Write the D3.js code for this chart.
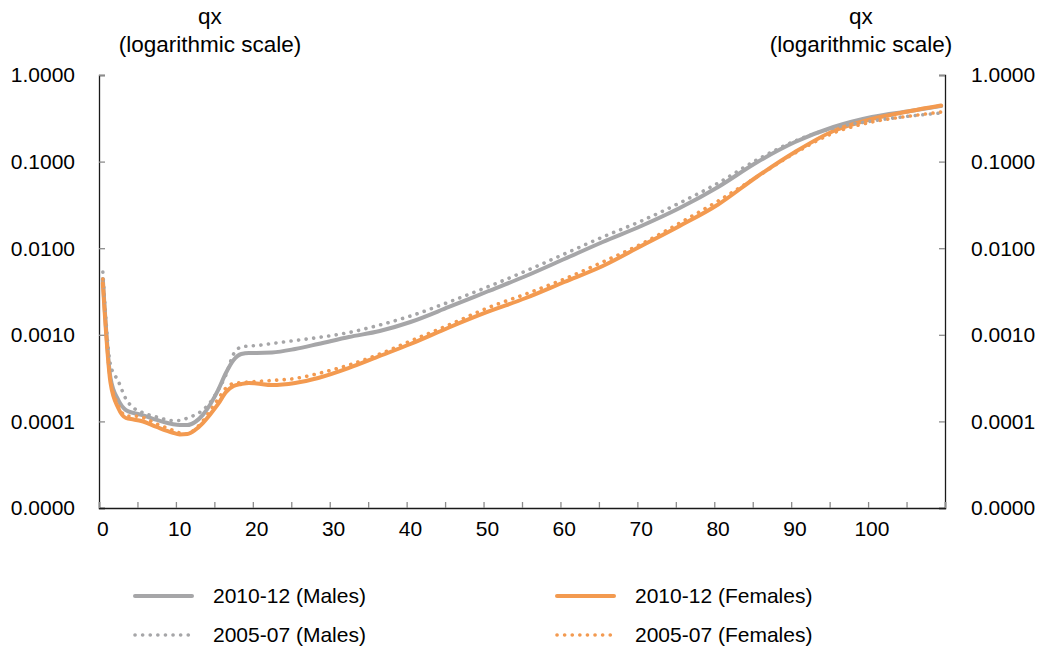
<!DOCTYPE html>
<html>
<head>
<meta charset="utf-8">
<script src="https://cdn.jsdelivr.net/npm/d3@7"></script>
<style>
  body { margin: 0; background: #fff; }
  text { font-family: "Liberation Sans", Arial, sans-serif; fill: #000; }
</style>
</head>
<body>
<div class="chart-container"></div>
<script>
const ages = [0, 1, 2, 3, 4, 5, 7, 9, 10, 11, 12, 13, 14, 15, 16, 17, 18, 19, 20, 22, 25, 28, 32, 36,
    40, 45, 50, 55, 60, 65, 70, 75, 80, 85, 90, 95, 100, 105, 109];

const males1012 = [0.00441, 0.000317, 0.000177, 0.000135, 0.000125, 0.000119, 0.000104, 0.0000933, 0.0000909,
    0.0000909, 0.0000985, 0.000119, 0.000159, 0.000231, 0.000362, 0.000512, 0.000600, 0.000617, 0.000617,
    0.000625, 0.000686, 0.000783, 0.000943, 0.001106, 0.001406, 0.002096, 0.003162, 0.004775, 0.00750,
    0.0118, 0.01805, 0.0291, 0.0509, 0.0976, 0.1684, 0.2509, 0.3273, 0.3841, 0.4386];

const females1012 = [0.003964, 0.000278, 0.000143, 0.0001095, 0.0001052, 0.000101, 0.0000862, 0.0000745, 0.0000706,
    0.0000715, 0.0000796, 0.0000958, 0.0001218, 0.000159, 0.000218, 0.000256, 0.000270, 0.000278, 0.000274,
    0.000263, 0.000278, 0.000317, 0.000414, 0.000569, 0.000783, 0.001215, 0.001834, 0.00266, 0.00407,
    0.00623, 0.0106, 0.01805, 0.03196, 0.0664, 0.1291, 0.2256, 0.3103, 0.3841, 0.4444];

const males0507 = [0.00531, 0.000448, 0.000293, 0.0001815, 0.000143, 0.0001284, 0.0001124, 0.0001024, 0.0001024,
    0.0001095, 0.000119, 0.000135, 0.0001675, 0.000231, 0.000344, 0.000600, 0.000723, 0.000743, 0.000752,
    0.000794, 0.000859, 0.000931, 0.001063, 0.001298, 0.001649, 0.002392, 0.003565, 0.00545, 0.00857,
    0.01347, 0.0206, 0.0333, 0.0566, 0.1043, 0.1729, 0.2443, 0.2942, 0.3362, 0.3640];

const females0507 = [0.00441, 0.000301, 0.0001547, 0.0001154, 0.0001154, 0.0001124, 0.0000933, 0.0000796, 0.0000735,
    0.0000715, 0.0000817, 0.000101, 0.000135, 0.0001815, 0.000243, 0.000274, 0.000281, 0.000285, 0.000289,
    0.000297, 0.000313, 0.000357, 0.000448, 0.000600, 0.000848, 0.001298, 0.00204, 0.00296, 0.00441,
    0.00693, 0.01118, 0.01954, 0.0351, 0.0664, 0.1257, 0.2140, 0.2866, 0.3362, 0.3738];

const yTicks = [0.00001, 0.0001, 0.001, 0.01, 0.1, 1];
const xLabels = [0, 10, 20, 30, 40, 50, 60, 70, 80, 90, 100];
const nAges = 110; // categories 0..109

const grey = '#a6a6a8';
const orange = '#f39a50';

const series = [
    { name: '2010-12 (Males)', values: males1012, color: grey, dotted: false },
    { name: '2010-12 (Females)', values: females1012, color: orange, dotted: false },
    { name: '2005-07 (Males)', values: males0507, color: grey, dotted: true },
    { name: '2005-07 (Females)', values: females0507, color: orange, dotted: true }
];

const outerWidth = 1040;
const outerHeight = 648;
const margin = { top: 75, right: 95, bottom: 140, left: 99 };
const width = outerWidth - margin.left - margin.right;
const height = outerHeight - margin.top - margin.bottom;

const svg = d3.select('.chart-container').append('svg')
    .attr('width', outerWidth)
    .attr('height', outerHeight);

const g = svg.append('g')
    .attr('transform', `translate(${margin.left}, ${margin.top})`);

// Scales: category axis, each age takes one slot
const x = d3.scaleLinear().domain([-0.5, nAges - 0.5]).range([0, width]);
const y = d3.scaleLog().domain([0.00001, 1]).range([height, 0]);

const fontSize = 21;
const titleSize = 22.5;

// Left axis
const yAxisLeft = d3.axisRight(y).tickValues(yTicks).tickSize(6).tickFormat('');
const gyl = g.append('g').call(yAxisLeft);
// Right axis
const yAxisRight = d3.axisLeft(y).tickValues(yTicks).tickSize(6).tickFormat('');
const gyr = g.append('g').attr('transform', `translate(${width}, 0)`).call(yAxisRight);
// X axis, ticks between categories every 5
const xTickVals = d3.range(0, nAges + 1, 5).map(d => d - 0.5);
const xAxis = d3.axisTop(x).tickValues(xTickVals).tickSize(6).tickFormat('');
const gx = g.append('g').attr('transform', `translate(0, ${height})`).call(xAxis);

[gyl, gyr, gx].forEach(ax => {
    ax.select('.domain').attr('stroke', '#1a1a1a').attr('stroke-width', 1.3);
    ax.selectAll('.tick line').attr('stroke', '#8c8c8c').attr('stroke-width', 1.3);
});

// Tick labels
g.selectAll('.ylabel-left').data(yTicks).enter().append('text')
    .attr('x', -24).attr('y', d => y(d)).attr('dy', '0.35em')
    .attr('text-anchor', 'end').style('font-size', fontSize + 'px')
    .text(d => d3.format('.4f')(d));
g.selectAll('.ylabel-right').data(yTicks).enter().append('text')
    .attr('x', width + 26).attr('y', d => y(d)).attr('dy', '0.35em')
    .attr('text-anchor', 'start').style('font-size', fontSize + 'px')
    .text(d => d3.format('.4f')(d));
g.selectAll('.xlabel').data(xLabels).enter().append('text')
    .attr('x', d => x(d)).attr('y', height + 28)
    .attr('text-anchor', 'middle').style('font-size', fontSize + 'px')
    .text(d => d);

// Axis titles
[210 - margin.left, 861 - margin.left].forEach(cx => {
    g.append('text').attr('x', cx).attr('y', -51).attr('text-anchor', 'middle')
        .style('font-size', titleSize + 'px').text('qx');
    g.append('text').attr('x', cx).attr('y', -23).attr('text-anchor', 'middle')
        .style('font-size', titleSize + 'px').text('(logarithmic scale)');
});

// Lines
const line = d3.line()
    .x((d, i) => x(ages[i]))
    .y(d => y(d))
    .curve(d3.curveMonotoneX);

series.forEach(s => {
    g.append('path')
        .datum(s.values)
        .attr('fill', 'none')
        .attr('stroke', s.color)
        .attr('stroke-width', s.dotted ? 3.6 : 4)
        .attr('stroke-linecap', 'round')
        .attr('stroke-linejoin', 'round')
        .attr('stroke-dasharray', s.dotted ? '0.1 7.5' : null)
        .attr('d', line);
});

// Legend
const legendPos = [[135, 596], [557, 596], [135, 635], [557, 635]];
series.forEach((s, i) => {
    const [lx, ly] = legendPos[i];
    svg.append('line')
        .attr('x1', lx).attr('x2', lx + 57).attr('y1', ly).attr('y2', ly)
        .attr('stroke', s.color)
        .attr('stroke-width', s.dotted ? 3.6 : 4)
        .attr('stroke-linecap', 'round')
        .attr('stroke-dasharray', s.dotted ? '0.1 7.5' : null);
    svg.append('text')
        .attr('x', lx + 78).attr('y', ly).attr('dy', '0.35em')
        .style('font-size', fontSize + 'px')
        .text(s.name);
});
</script>
</body>
</html>
